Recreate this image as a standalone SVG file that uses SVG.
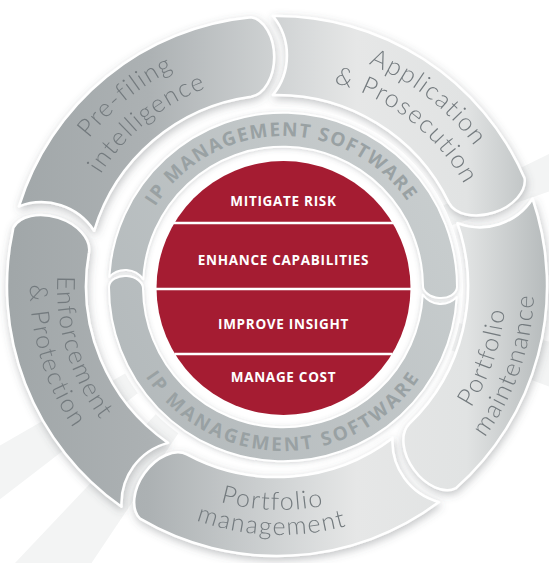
<svg xmlns="http://www.w3.org/2000/svg" xmlns:xlink="http://www.w3.org/1999/xlink" width="549" height="563" viewBox="0 0 549 563">
<defs>
<style>
.seg{stroke:#fff;stroke-width:2.5;stroke-linejoin:round}
.lbl{font-family:Lato,"Open Sans","DejaVu Sans",sans-serif;font-weight:300;font-size:25px;fill:#737a7e;letter-spacing:1.5px}
.band{stroke:#fff;stroke-width:2;stroke-linejoin:round}
.bt{font-family:"Open Sans","DejaVu Sans",sans-serif;font-weight:700;font-size:19px;fill:#99a1a3}
.ct{font-family:"Open Sans","DejaVu Sans",sans-serif;font-weight:700;font-size:13.5px;fill:#fff;letter-spacing:0.7px;text-anchor:middle}
.ray{fill:#f3f4f4}
</style>
<filter id="sh" x="-20%" y="-20%" width="140%" height="140%">
<feDropShadow dx="1" dy="3" stdDeviation="4.5" flood-color="#4f575b" flood-opacity="0.35"/>
</filter>
<filter id="sh2" x="-20%" y="-20%" width="140%" height="140%">
<feDropShadow dx="0" dy="1" stdDeviation="2.5" flood-color="#4f575b" flood-opacity="0.25"/>
</filter>
<linearGradient id="segG" gradientUnits="userSpaceOnUse" x1="-277" y1="0" x2="272" y2="0">
<stop offset="0" stop-color="#a0a6a8"/>
<stop offset="0.27" stop-color="#acb1b3"/>
<stop offset="0.5" stop-color="#cfd2d3"/>
<stop offset="0.65" stop-color="#e6e7e7"/>
<stop offset="0.85" stop-color="#e1e3e3"/>
<stop offset="1" stop-color="#b5babb"/>
</linearGradient>
<linearGradient id="gE" xlink:href="#segG" gradientTransform="rotate(-126)"/>
<linearGradient id="gP" xlink:href="#segG" gradientTransform="rotate(-198)"/>
<linearGradient id="gA" xlink:href="#segG" gradientTransform="rotate(-270)"/>
<linearGradient id="gM" xlink:href="#segG" gradientTransform="rotate(-342)"/>
<linearGradient id="gG" xlink:href="#segG" gradientTransform="rotate(-54)"/>
<linearGradient id="bandG" gradientUnits="userSpaceOnUse" x1="-174" y1="100" x2="174" y2="-100">
<stop offset="0" stop-color="#b3b9bb"/>
<stop offset="1" stop-color="#c9cecf"/>
</linearGradient>
<linearGradient id="bL" xlink:href="#bandG" gradientTransform="rotate(-4)"/>
<linearGradient id="bU" xlink:href="#bandG" gradientTransform="rotate(-184)"/>
<path id="segShape" d="M 270 -4 A 270 270 0 0 1 107.76 247.56 A 40 26 72 0 1 83.13 171.96 A 191 191 0 0 0 191 -4 A 62.72 62.72 0 0 0 270 -4 Z"/>
<path id="bandShape" d="M 174 -2 A 174 174 0 0 1 -173.59 11.99 A 17 12 0 0 1 -139.49 11.99 A 140 140 0 0 0 140 -2 A 22.06 22.06 0 0 0 174 -2 Z"/>
<path id="tpP1" d="M 58.92 385.43 A 242 242 0 0 1 422.24 91.22"/>
<path id="tpP2" d="M 86.33 373.23 A 212 212 0 0 1 404.61 115.49"/>
<path id="tpA1" d="M 135.56 95.33 A 240 240 0 0 1 500.92 380.78"/>
<path id="tpA2" d="M 153.02 118.49 A 211 211 0 0 1 474.23 369.44"/>
<path id="tpM1" d="M 264.23 512.45 A 226 226 0 0 0 406.38 99.64"/>
<path id="tpM2" d="M 262.28 540.38 A 254 254 0 0 0 422.03 76.42"/>
<path id="tpG1" d="M 62.72 337.16 A 223 223 0 0 0 493.25 352.20"/>
<path id="tpG2" d="M 38.36 342.79 A 248 248 0 0 0 517.16 359.51"/>
<path id="tpE1" d="M 161.83 97.89 A 223 223 0 0 0 287.78 509.86"/>
<path id="tpE2" d="M 147.52 74.99 A 250 250 0 0 0 288.73 536.85"/>
<path id="tpBU" d="M 133.86 263.38 A 151 151 0 0 1 431.23 258.19"/>
<path id="tpBL" d="M 121.49 315.48 A 164 164 0 0 0 444.51 315.48"/>
</defs>
<rect width="549" height="563" fill="#ffffff"/>
<g id="background">
<polygon class="ray" points="277,286 -60,480 -40,530"/>
<polygon class="ray" points="277,286 -20,600 40,640"/>
<polygon class="ray" points="277,286 640,360 640,420"/>
<polygon class="ray" points="277,286 640,110 640,160"/>
</g>

<g id="enforcement-protection" filter="url(#sh)">
<use xlink:href="#segShape" class="seg" fill="url(#gE)" transform="translate(277 286) rotate(126)"/>
<text class="lbl"><textPath xlink:href="#tpE1" startOffset="50%" text-anchor="middle">Enforcement</textPath></text>
<text class="lbl"><textPath xlink:href="#tpE2" startOffset="50%" text-anchor="middle">&amp; Protection</textPath></text>
</g>
<g id="pre-filing-intelligence" filter="url(#sh)">
<use xlink:href="#segShape" class="seg" fill="url(#gP)" transform="translate(277 286) rotate(198)"/>
<text class="lbl"><textPath xlink:href="#tpP1" startOffset="50%" text-anchor="middle">Pre-filing</textPath></text>
<text class="lbl"><textPath xlink:href="#tpP2" startOffset="50%" text-anchor="middle">intelligence</textPath></text>
</g>
<g id="application-prosecution" filter="url(#sh)">
<use xlink:href="#segShape" class="seg" fill="url(#gA)" transform="translate(277 286) rotate(270)"/>
<text class="lbl"><textPath xlink:href="#tpA1" startOffset="50%" text-anchor="middle">Application</textPath></text>
<text class="lbl"><textPath xlink:href="#tpA2" startOffset="50%" text-anchor="middle">&amp; Prosecution</textPath></text>
</g>
<g id="portfolio-maintenance" filter="url(#sh)">
<use xlink:href="#segShape" class="seg" fill="url(#gM)" transform="translate(277 286) rotate(342)"/>
<text class="lbl"><textPath xlink:href="#tpM1" startOffset="50%" text-anchor="middle">Portfolio</textPath></text>
<text class="lbl"><textPath xlink:href="#tpM2" startOffset="50%" text-anchor="middle">maintenance</textPath></text>
</g>
<g id="portfolio-management" filter="url(#sh)">
<use xlink:href="#segShape" class="seg" fill="url(#gG)" transform="translate(277 286) rotate(54)"/>
<text class="lbl"><textPath xlink:href="#tpG1" startOffset="50%" text-anchor="middle">Portfolio</textPath></text>
<text class="lbl"><textPath xlink:href="#tpG2" startOffset="50%" text-anchor="middle">management</textPath></text>
</g>

<g id="ip-software-ring">
<circle cx="283" cy="287" r="180" fill="#ffffff"/>
<g filter="url(#sh2)">
<use xlink:href="#bandShape" class="band" fill="url(#bL)" transform="translate(283 287) rotate(4)"/>
<use xlink:href="#bandShape" class="band" fill="url(#bU)" transform="translate(283 287) rotate(184)"/>
</g>
<text class="bt" letter-spacing="1.4"><textPath xlink:href="#tpBU" startOffset="50%" text-anchor="middle">IP MANAGEMENT SOFTWARE</textPath></text>
<text class="bt" letter-spacing="2.6"><textPath xlink:href="#tpBL" startOffset="50%" text-anchor="middle">IP MANAGEMENT SOFTWARE</textPath></text>
</g>

<g id="core">
<circle cx="283.5" cy="288" r="127" fill="#a51c32"/>
<g stroke="#ffffff" stroke-width="2.5">
<line x1="174" y1="223" x2="393" y2="223"/>
<line x1="156" y1="289" x2="411" y2="289"/>
<line x1="175" y1="354" x2="392" y2="354"/>
</g>
<text class="ct" x="283.5" y="205.5">MITIGATE RISK</text>
<text class="ct" x="283.5" y="264.5">ENHANCE CAPABILITIES</text>
<text class="ct" x="283.5" y="328.5">IMPROVE INSIGHT</text>
<text class="ct" x="283.5" y="381.5">MANAGE COST</text>
</g>
<g id="connectors"/>
</svg>
